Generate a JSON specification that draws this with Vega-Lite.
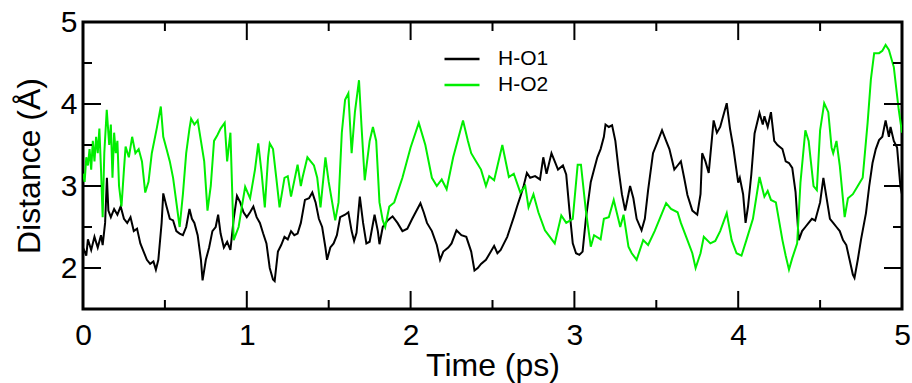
{
"$schema": "https://vega.github.io/schema/vega-lite/v6.json",
"width": 819, "height": 287,
"autosize": {"type": "none"},
"padding": {"left": 83, "top": 22, "right": 10, "bottom": 74},
"background": "white",
"config": {"view": {"stroke": "black", "strokeWidth": 3}, "font": "Liberation Sans",
  "axis": {"grid": false, "labelOverlap": false, "domain": false, "ticks": false}},
"resolve": {"axis": {"x": "independent", "y": "independent"}},
"layer": [
  {
    "data": {"values": [
{"s":"H-O1","t":0,"d":2.25},{"s":"H-O1","t":0.02,"d":2.15},{"s":"H-O1","t":0.03,"d":2.35},{"s":"H-O1","t":0.05,"d":2.22},{"s":"H-O1","t":0.07,"d":2.38},{"s":"H-O1","t":0.09,"d":2.25},{"s":"H-O1","t":0.11,"d":2.4},{"s":"H-O1","t":0.12,"d":2.28},{"s":"H-O1","t":0.135,"d":2.55},{"s":"H-O1","t":0.146,"d":3.1},{"s":"H-O1","t":0.155,"d":2.7},{"s":"H-O1","t":0.17,"d":2.62},{"s":"H-O1","t":0.19,"d":2.72},{"s":"H-O1","t":0.21,"d":2.65},{"s":"H-O1","t":0.23,"d":2.75},{"s":"H-O1","t":0.25,"d":2.6},{"s":"H-O1","t":0.27,"d":2.55},{"s":"H-O1","t":0.29,"d":2.62},{"s":"H-O1","t":0.31,"d":2.45},{"s":"H-O1","t":0.33,"d":2.48},{"s":"H-O1","t":0.35,"d":2.3},{"s":"H-O1","t":0.37,"d":2.2},{"s":"H-O1","t":0.39,"d":2.1},{"s":"H-O1","t":0.41,"d":2.05},{"s":"H-O1","t":0.43,"d":2.08},{"s":"H-O1","t":0.445,"d":1.98},{"s":"H-O1","t":0.46,"d":2.1},{"s":"H-O1","t":0.48,"d":2.55},{"s":"H-O1","t":0.49,"d":2.91},{"s":"H-O1","t":0.51,"d":2.75},{"s":"H-O1","t":0.53,"d":2.6},{"s":"H-O1","t":0.55,"d":2.58},{"s":"H-O1","t":0.57,"d":2.45},{"s":"H-O1","t":0.59,"d":2.42},{"s":"H-O1","t":0.61,"d":2.4},{"s":"H-O1","t":0.63,"d":2.5},{"s":"H-O1","t":0.65,"d":2.72},{"s":"H-O1","t":0.665,"d":2.6},{"s":"H-O1","t":0.68,"d":2.55},{"s":"H-O1","t":0.7,"d":2.4},{"s":"H-O1","t":0.72,"d":2.1},{"s":"H-O1","t":0.73,"d":1.85},{"s":"H-O1","t":0.75,"d":2.1},{"s":"H-O1","t":0.77,"d":2.25},{"s":"H-O1","t":0.79,"d":2.45},{"s":"H-O1","t":0.81,"d":2.5},{"s":"H-O1","t":0.825,"d":2.65},{"s":"H-O1","t":0.84,"d":2.42},{"s":"H-O1","t":0.86,"d":2.25},{"s":"H-O1","t":0.88,"d":2.32},{"s":"H-O1","t":0.9,"d":2.22},{"s":"H-O1","t":0.92,"d":2.6},{"s":"H-O1","t":0.94,"d":2.88},{"s":"H-O1","t":0.96,"d":2.8},{"s":"H-O1","t":0.98,"d":2.68},{"s":"H-O1","t":1,"d":2.62},{"s":"H-O1","t":1.02,"d":2.68},{"s":"H-O1","t":1.04,"d":2.75},{"s":"H-O1","t":1.06,"d":2.62},{"s":"H-O1","t":1.08,"d":2.55},{"s":"H-O1","t":1.1,"d":2.42},{"s":"H-O1","t":1.12,"d":2.3},{"s":"H-O1","t":1.14,"d":2},{"s":"H-O1","t":1.16,"d":1.86},{"s":"H-O1","t":1.17,"d":1.84},{"s":"H-O1","t":1.19,"d":2.2},{"s":"H-O1","t":1.21,"d":2.28},{"s":"H-O1","t":1.23,"d":2.38},{"s":"H-O1","t":1.25,"d":2.35},{"s":"H-O1","t":1.27,"d":2.45},{"s":"H-O1","t":1.29,"d":2.4},{"s":"H-O1","t":1.31,"d":2.42},{"s":"H-O1","t":1.33,"d":2.55},{"s":"H-O1","t":1.355,"d":2.83},{"s":"H-O1","t":1.38,"d":2.85},{"s":"H-O1","t":1.4,"d":2.92},{"s":"H-O1","t":1.42,"d":2.8},{"s":"H-O1","t":1.44,"d":2.6},{"s":"H-O1","t":1.46,"d":2.5},{"s":"H-O1","t":1.48,"d":2.25},{"s":"H-O1","t":1.49,"d":2.1},{"s":"H-O1","t":1.51,"d":2.25},{"s":"H-O1","t":1.53,"d":2.3},{"s":"H-O1","t":1.55,"d":2.4},{"s":"H-O1","t":1.57,"d":2.62},{"s":"H-O1","t":1.6,"d":2.65},{"s":"H-O1","t":1.62,"d":2.68},{"s":"H-O1","t":1.64,"d":2.45},{"s":"H-O1","t":1.655,"d":2.33},{"s":"H-O1","t":1.67,"d":2.43},{"s":"H-O1","t":1.69,"d":2.87},{"s":"H-O1","t":1.71,"d":2.55},{"s":"H-O1","t":1.73,"d":2.3},{"s":"H-O1","t":1.75,"d":2.32},{"s":"H-O1","t":1.78,"d":2.65},{"s":"H-O1","t":1.8,"d":2.45},{"s":"H-O1","t":1.81,"d":2.29},{"s":"H-O1","t":1.83,"d":2.5},{"s":"H-O1","t":1.86,"d":2.58},{"s":"H-O1","t":1.89,"d":2.63},{"s":"H-O1","t":1.92,"d":2.55},{"s":"H-O1","t":1.95,"d":2.45},{"s":"H-O1","t":1.98,"d":2.48},{"s":"H-O1","t":2.01,"d":2.6},{"s":"H-O1","t":2.06,"d":2.79},{"s":"H-O1","t":2.08,"d":2.68},{"s":"H-O1","t":2.1,"d":2.55},{"s":"H-O1","t":2.13,"d":2.45},{"s":"H-O1","t":2.16,"d":2.28},{"s":"H-O1","t":2.18,"d":2.1},{"s":"H-O1","t":2.2,"d":2.2},{"s":"H-O1","t":2.23,"d":2.25},{"s":"H-O1","t":2.25,"d":2.3},{"s":"H-O1","t":2.28,"d":2.46},{"s":"H-O1","t":2.31,"d":2.4},{"s":"H-O1","t":2.34,"d":2.38},{"s":"H-O1","t":2.37,"d":2.2},{"s":"H-O1","t":2.39,"d":1.97},{"s":"H-O1","t":2.41,"d":2},{"s":"H-O1","t":2.43,"d":2.05},{"s":"H-O1","t":2.46,"d":2.1},{"s":"H-O1","t":2.49,"d":2.2},{"s":"H-O1","t":2.51,"d":2.27},{"s":"H-O1","t":2.53,"d":2.18},{"s":"H-O1","t":2.55,"d":2.22},{"s":"H-O1","t":2.57,"d":2.3},{"s":"H-O1","t":2.59,"d":2.38},{"s":"H-O1","t":2.61,"d":2.5},{"s":"H-O1","t":2.63,"d":2.62},{"s":"H-O1","t":2.65,"d":2.75},{"s":"H-O1","t":2.67,"d":2.87},{"s":"H-O1","t":2.69,"d":3},{"s":"H-O1","t":2.71,"d":3.16},{"s":"H-O1","t":2.73,"d":3.1},{"s":"H-O1","t":2.76,"d":3.12},{"s":"H-O1","t":2.79,"d":3.08},{"s":"H-O1","t":2.81,"d":3.35},{"s":"H-O1","t":2.83,"d":3.15},{"s":"H-O1","t":2.86,"d":3.4},{"s":"H-O1","t":2.88,"d":3.3},{"s":"H-O1","t":2.9,"d":3.2},{"s":"H-O1","t":2.93,"d":3.25},{"s":"H-O1","t":2.95,"d":3.14},{"s":"H-O1","t":2.97,"d":2.7},{"s":"H-O1","t":2.99,"d":2.3},{"s":"H-O1","t":3.01,"d":2.18},{"s":"H-O1","t":3.03,"d":2.16},{"s":"H-O1","t":3.05,"d":2.2},{"s":"H-O1","t":3.07,"d":2.6},{"s":"H-O1","t":3.1,"d":3.05},{"s":"H-O1","t":3.12,"d":3.2},{"s":"H-O1","t":3.14,"d":3.35},{"s":"H-O1","t":3.16,"d":3.45},{"s":"H-O1","t":3.18,"d":3.6},{"s":"H-O1","t":3.19,"d":3.75},{"s":"H-O1","t":3.21,"d":3.72},{"s":"H-O1","t":3.23,"d":3.74},{"s":"H-O1","t":3.25,"d":3.55},{"s":"H-O1","t":3.27,"d":3.2},{"s":"H-O1","t":3.29,"d":2.9},{"s":"H-O1","t":3.31,"d":2.7},{"s":"H-O1","t":3.33,"d":2.9},{"s":"H-O1","t":3.34,"d":3},{"s":"H-O1","t":3.36,"d":2.85},{"s":"H-O1","t":3.38,"d":2.6},{"s":"H-O1","t":3.41,"d":2.46},{"s":"H-O1","t":3.43,"d":2.6},{"s":"H-O1","t":3.45,"d":2.95},{"s":"H-O1","t":3.48,"d":3.4},{"s":"H-O1","t":3.51,"d":3.55},{"s":"H-O1","t":3.535,"d":3.68},{"s":"H-O1","t":3.56,"d":3.55},{"s":"H-O1","t":3.58,"d":3.45},{"s":"H-O1","t":3.61,"d":3.2},{"s":"H-O1","t":3.63,"d":3.25},{"s":"H-O1","t":3.65,"d":3.3},{"s":"H-O1","t":3.67,"d":3.1},{"s":"H-O1","t":3.69,"d":2.89},{"s":"H-O1","t":3.72,"d":2.7},{"s":"H-O1","t":3.75,"d":2.65},{"s":"H-O1","t":3.77,"d":2.9},{"s":"H-O1","t":3.78,"d":3.4},{"s":"H-O1","t":3.8,"d":3.3},{"s":"H-O1","t":3.82,"d":3.16},{"s":"H-O1","t":3.85,"d":3.8},{"s":"H-O1","t":3.87,"d":3.65},{"s":"H-O1","t":3.89,"d":3.72},{"s":"H-O1","t":3.93,"d":4.01},{"s":"H-O1","t":3.95,"d":3.7},{"s":"H-O1","t":3.97,"d":3.47},{"s":"H-O1","t":4,"d":3.04},{"s":"H-O1","t":4.01,"d":3.1},{"s":"H-O1","t":4.03,"d":2.9},{"s":"H-O1","t":4.045,"d":2.55},{"s":"H-O1","t":4.06,"d":2.75},{"s":"H-O1","t":4.08,"d":3.14},{"s":"H-O1","t":4.1,"d":3.64},{"s":"H-O1","t":4.13,"d":3.89},{"s":"H-O1","t":4.15,"d":3.75},{"s":"H-O1","t":4.16,"d":3.85},{"s":"H-O1","t":4.18,"d":3.72},{"s":"H-O1","t":4.2,"d":3.9},{"s":"H-O1","t":4.22,"d":3.55},{"s":"H-O1","t":4.24,"d":3.5},{"s":"H-O1","t":4.27,"d":3.45},{"s":"H-O1","t":4.29,"d":3.3},{"s":"H-O1","t":4.31,"d":3.28},{"s":"H-O1","t":4.33,"d":3.22},{"s":"H-O1","t":4.35,"d":2.93},{"s":"H-O1","t":4.37,"d":2.34},{"s":"H-O1","t":4.39,"d":2.45},{"s":"H-O1","t":4.41,"d":2.5},{"s":"H-O1","t":4.43,"d":2.55},{"s":"H-O1","t":4.45,"d":2.6},{"s":"H-O1","t":4.47,"d":2.58},{"s":"H-O1","t":4.5,"d":2.8},{"s":"H-O1","t":4.52,"d":3.1},{"s":"H-O1","t":4.54,"d":2.85},{"s":"H-O1","t":4.56,"d":2.6},{"s":"H-O1","t":4.58,"d":2.55},{"s":"H-O1","t":4.6,"d":2.5},{"s":"H-O1","t":4.62,"d":2.45},{"s":"H-O1","t":4.64,"d":2.34},{"s":"H-O1","t":4.66,"d":2.28},{"s":"H-O1","t":4.68,"d":2.1},{"s":"H-O1","t":4.7,"d":1.92},{"s":"H-O1","t":4.71,"d":1.88},{"s":"H-O1","t":4.73,"d":2.1},{"s":"H-O1","t":4.75,"d":2.35},{"s":"H-O1","t":4.78,"d":2.67},{"s":"H-O1","t":4.8,"d":3},{"s":"H-O1","t":4.82,"d":3.28},{"s":"H-O1","t":4.84,"d":3.45},{"s":"H-O1","t":4.86,"d":3.56},{"s":"H-O1","t":4.88,"d":3.6},{"s":"H-O1","t":4.9,"d":3.8},{"s":"H-O1","t":4.92,"d":3.6},{"s":"H-O1","t":4.93,"d":3.72},{"s":"H-O1","t":4.95,"d":3.55},{"s":"H-O1","t":4.97,"d":3.47},{"s":"H-O1","t":4.99,"d":3},{"s":"H-O1","t":5,"d":2.9},
{"s":"H-O2","t":0,"d":3.15},{"s":"H-O2","t":0.01,"d":3.05},{"s":"H-O2","t":0.02,"d":3.35},{"s":"H-O2","t":0.03,"d":3.25},{"s":"H-O2","t":0.04,"d":3.45},{"s":"H-O2","t":0.05,"d":3.2},{"s":"H-O2","t":0.06,"d":3.55},{"s":"H-O2","t":0.07,"d":3.3},{"s":"H-O2","t":0.08,"d":3.6},{"s":"H-O2","t":0.09,"d":3.4},{"s":"H-O2","t":0.1,"d":3.7},{"s":"H-O2","t":0.11,"d":3.2},{"s":"H-O2","t":0.12,"d":2.62},{"s":"H-O2","t":0.13,"d":3.4},{"s":"H-O2","t":0.145,"d":3.93},{"s":"H-O2","t":0.16,"d":3.5},{"s":"H-O2","t":0.17,"d":3.75},{"s":"H-O2","t":0.18,"d":3.1},{"s":"H-O2","t":0.19,"d":3.65},{"s":"H-O2","t":0.2,"d":3.4},{"s":"H-O2","t":0.21,"d":3.55},{"s":"H-O2","t":0.22,"d":3},{"s":"H-O2","t":0.235,"d":2.75},{"s":"H-O2","t":0.25,"d":3.2},{"s":"H-O2","t":0.26,"d":3.48},{"s":"H-O2","t":0.28,"d":3.35},{"s":"H-O2","t":0.3,"d":3.6},{"s":"H-O2","t":0.32,"d":3.4},{"s":"H-O2","t":0.34,"d":3.45},{"s":"H-O2","t":0.36,"d":3.3},{"s":"H-O2","t":0.38,"d":2.92},{"s":"H-O2","t":0.4,"d":3.05},{"s":"H-O2","t":0.42,"d":3.4},{"s":"H-O2","t":0.45,"d":3.7},{"s":"H-O2","t":0.475,"d":3.97},{"s":"H-O2","t":0.49,"d":3.6},{"s":"H-O2","t":0.51,"d":3.45},{"s":"H-O2","t":0.53,"d":3.3},{"s":"H-O2","t":0.55,"d":3.1},{"s":"H-O2","t":0.57,"d":2.8},{"s":"H-O2","t":0.59,"d":2.5},{"s":"H-O2","t":0.61,"d":2.9},{"s":"H-O2","t":0.63,"d":3.4},{"s":"H-O2","t":0.65,"d":3.7},{"s":"H-O2","t":0.66,"d":3.82},{"s":"H-O2","t":0.68,"d":3.75},{"s":"H-O2","t":0.7,"d":3.8},{"s":"H-O2","t":0.72,"d":3.55},{"s":"H-O2","t":0.74,"d":3.3},{"s":"H-O2","t":0.76,"d":2.7},{"s":"H-O2","t":0.78,"d":3},{"s":"H-O2","t":0.8,"d":3.55},{"s":"H-O2","t":0.82,"d":3.62},{"s":"H-O2","t":0.84,"d":3.7},{"s":"H-O2","t":0.865,"d":3.77},{"s":"H-O2","t":0.88,"d":3.3},{"s":"H-O2","t":0.9,"d":3.65},{"s":"H-O2","t":0.92,"d":2.34},{"s":"H-O2","t":0.95,"d":2.5},{"s":"H-O2","t":0.97,"d":2.75},{"s":"H-O2","t":0.99,"d":2.99},{"s":"H-O2","t":1.02,"d":2.85},{"s":"H-O2","t":1.05,"d":3.2},{"s":"H-O2","t":1.07,"d":3.52},{"s":"H-O2","t":1.09,"d":3.17},{"s":"H-O2","t":1.11,"d":2.74},{"s":"H-O2","t":1.13,"d":3.35},{"s":"H-O2","t":1.14,"d":3.52},{"s":"H-O2","t":1.16,"d":3.45},{"s":"H-O2","t":1.18,"d":3.1},{"s":"H-O2","t":1.2,"d":2.74},{"s":"H-O2","t":1.23,"d":3.1},{"s":"H-O2","t":1.25,"d":3.12},{"s":"H-O2","t":1.27,"d":2.87},{"s":"H-O2","t":1.31,"d":3.26},{"s":"H-O2","t":1.33,"d":3},{"s":"H-O2","t":1.34,"d":3.1},{"s":"H-O2","t":1.37,"d":3.35},{"s":"H-O2","t":1.41,"d":3.25},{"s":"H-O2","t":1.43,"d":3.1},{"s":"H-O2","t":1.45,"d":2.74},{"s":"H-O2","t":1.48,"d":3.35},{"s":"H-O2","t":1.5,"d":3.05},{"s":"H-O2","t":1.54,"d":2.58},{"s":"H-O2","t":1.56,"d":2.8},{"s":"H-O2","t":1.58,"d":3.65},{"s":"H-O2","t":1.6,"d":4.05},{"s":"H-O2","t":1.62,"d":4.13},{"s":"H-O2","t":1.64,"d":3.4},{"s":"H-O2","t":1.66,"d":3.9},{"s":"H-O2","t":1.685,"d":4.29},{"s":"H-O2","t":1.7,"d":3.74},{"s":"H-O2","t":1.72,"d":3.07},{"s":"H-O2","t":1.75,"d":3.55},{"s":"H-O2","t":1.77,"d":3.72},{"s":"H-O2","t":1.79,"d":3.55},{"s":"H-O2","t":1.81,"d":2.8},{"s":"H-O2","t":1.83,"d":2.58},{"s":"H-O2","t":1.845,"d":2.5},{"s":"H-O2","t":1.87,"d":2.75},{"s":"H-O2","t":1.9,"d":2.8},{"s":"H-O2","t":1.95,"d":3.1},{"s":"H-O2","t":2,"d":3.47},{"s":"H-O2","t":2.05,"d":3.77},{"s":"H-O2","t":2.09,"d":3.5},{"s":"H-O2","t":2.13,"d":3.1},{"s":"H-O2","t":2.16,"d":3},{"s":"H-O2","t":2.19,"d":3.08},{"s":"H-O2","t":2.22,"d":2.96},{"s":"H-O2","t":2.26,"d":3.35},{"s":"H-O2","t":2.32,"d":3.8},{"s":"H-O2","t":2.35,"d":3.55},{"s":"H-O2","t":2.37,"d":3.4},{"s":"H-O2","t":2.4,"d":3.3},{"s":"H-O2","t":2.43,"d":3.2},{"s":"H-O2","t":2.46,"d":3},{"s":"H-O2","t":2.48,"d":3.12},{"s":"H-O2","t":2.51,"d":3.07},{"s":"H-O2","t":2.56,"d":3.5},{"s":"H-O2","t":2.6,"d":3.11},{"s":"H-O2","t":2.63,"d":3.15},{"s":"H-O2","t":2.67,"d":2.92},{"s":"H-O2","t":2.7,"d":3},{"s":"H-O2","t":2.72,"d":2.74},{"s":"H-O2","t":2.75,"d":2.9},{"s":"H-O2","t":2.78,"d":2.68},{"s":"H-O2","t":2.82,"d":2.46},{"s":"H-O2","t":2.88,"d":2.3},{"s":"H-O2","t":2.92,"d":2.64},{"s":"H-O2","t":2.95,"d":2.55},{"s":"H-O2","t":2.99,"d":2.6},{"s":"H-O2","t":3.02,"d":3.26},{"s":"H-O2","t":3.04,"d":3.26},{"s":"H-O2","t":3.07,"d":2.7},{"s":"H-O2","t":3.1,"d":2.26},{"s":"H-O2","t":3.12,"d":2.4},{"s":"H-O2","t":3.16,"d":2.35},{"s":"H-O2","t":3.18,"d":2.6},{"s":"H-O2","t":3.21,"d":2.62},{"s":"H-O2","t":3.24,"d":2.83},{"s":"H-O2","t":3.28,"d":2.5},{"s":"H-O2","t":3.3,"d":2.65},{"s":"H-O2","t":3.33,"d":2.26},{"s":"H-O2","t":3.35,"d":2.18},{"s":"H-O2","t":3.38,"d":2.1},{"s":"H-O2","t":3.42,"d":2.34},{"s":"H-O2","t":3.45,"d":2.28},{"s":"H-O2","t":3.49,"d":2.45},{"s":"H-O2","t":3.535,"d":2.67},{"s":"H-O2","t":3.56,"d":2.79},{"s":"H-O2","t":3.59,"d":2.72},{"s":"H-O2","t":3.63,"d":2.68},{"s":"H-O2","t":3.65,"d":2.55},{"s":"H-O2","t":3.69,"d":2.34},{"s":"H-O2","t":3.72,"d":2.18},{"s":"H-O2","t":3.74,"d":2},{"s":"H-O2","t":3.77,"d":2.18},{"s":"H-O2","t":3.79,"d":2.38},{"s":"H-O2","t":3.83,"d":2.3},{"s":"H-O2","t":3.86,"d":2.33},{"s":"H-O2","t":3.89,"d":2.45},{"s":"H-O2","t":3.93,"d":2.67},{"s":"H-O2","t":3.96,"d":2.34},{"s":"H-O2","t":3.99,"d":2.18},{"s":"H-O2","t":4.02,"d":2.15},{"s":"H-O2","t":4.05,"d":2.34},{"s":"H-O2","t":4.09,"d":2.6},{"s":"H-O2","t":4.13,"d":3.11},{"s":"H-O2","t":4.16,"d":2.87},{"s":"H-O2","t":4.18,"d":2.94},{"s":"H-O2","t":4.2,"d":2.83},{"s":"H-O2","t":4.23,"d":2.8},{"s":"H-O2","t":4.27,"d":2.34},{"s":"H-O2","t":4.29,"d":2.15},{"s":"H-O2","t":4.31,"d":1.98},{"s":"H-O2","t":4.33,"d":2.12},{"s":"H-O2","t":4.36,"d":2.3},{"s":"H-O2","t":4.38,"d":3.04},{"s":"H-O2","t":4.41,"d":3.68},{"s":"H-O2","t":4.43,"d":3.55},{"s":"H-O2","t":4.46,"d":3},{"s":"H-O2","t":4.48,"d":2.95},{"s":"H-O2","t":4.5,"d":3.68},{"s":"H-O2","t":4.525,"d":4.01},{"s":"H-O2","t":4.55,"d":3.9},{"s":"H-O2","t":4.57,"d":3.47},{"s":"H-O2","t":4.58,"d":3.4},{"s":"H-O2","t":4.6,"d":3.55},{"s":"H-O2","t":4.62,"d":3.25},{"s":"H-O2","t":4.65,"d":2.62},{"s":"H-O2","t":4.67,"d":2.85},{"s":"H-O2","t":4.7,"d":2.9},{"s":"H-O2","t":4.73,"d":3},{"s":"H-O2","t":4.76,"d":3.1},{"s":"H-O2","t":4.79,"d":3.77},{"s":"H-O2","t":4.81,"d":4.3},{"s":"H-O2","t":4.83,"d":4.62},{"s":"H-O2","t":4.86,"d":4.62},{"s":"H-O2","t":4.88,"d":4.65},{"s":"H-O2","t":4.9,"d":4.72},{"s":"H-O2","t":4.92,"d":4.66},{"s":"H-O2","t":4.95,"d":4.45},{"s":"H-O2","t":4.98,"d":3.93},{"s":"H-O2","t":5,"d":3.65}
    ]},
    "mark": {"type": "line", "strokeWidth": 2, "clip": true},
    "encoding": {
      "x": {"field": "t", "type": "quantitative", "scale": {"domain": [0, 5], "nice": false, "zero": false},
        "axis": {"orient": "bottom", "title": "Time (ps)", "values": [0,1,2,3,4,5], "format": "d",
          "labelFlush": false, "labelBound": false,
          "labelPadding": 11, "labelFontSize": 30, "labelColor": "black", "labelFont": "Liberation Sans",
          "titleFontSize": 32, "titleFontWeight": "normal", "titleColor": "black", "titleFont": "Liberation Sans", "titlePadding": 0}},
      "y": {"field": "d", "type": "quantitative", "scale": {"domain": [1.5, 5], "nice": false, "zero": false},
        "axis": {"orient": "left", "title": "Distance (Å)", "values": [2,3,4,5], "format": "d",
          "labelFlush": false, "labelBound": false,
          "labelPadding": 6, "labelFontSize": 30, "labelColor": "black", "labelFont": "Liberation Sans",
          "titleFontSize": 32, "titleFontWeight": "normal", "titleColor": "black", "titleFont": "Liberation Sans", "titlePadding": 14}},
      "color": {"field": "s", "type": "nominal", "scale": {"domain": ["H-O1", "H-O2"], "range": ["#000000", "#00ee00"]},
        "legend": {"orient": "none", "legendX": 360, "legendY": 24, "title": null, "symbolType": "stroke", "symbolSize": 1225,
          "symbolStrokeWidth": 2.5, "labelFontSize": 21, "labelFont": "Liberation Sans", "labelColor": "black", "labelOffset": 17,
          "clipHeight": 26, "padding": 0, "rowPadding": 0}}
    }
  },
  {
    "data": {"values": [{"v":0},{"v":1},{"v":2},{"v":3},{"v":4},{"v":5}]},
    "mark": {"type": "rule", "color": "black", "strokeWidth": 2},
    "encoding": {
      "x": {"field": "v", "type": "quantitative", "axis": null},
      "y": {"datum": 1.5, "type": "quantitative", "axis": null},
      "y2": {"datum": 1.72}
    }
  },
  {
    "data": {"values": [{"v":0},{"v":1},{"v":2},{"v":3},{"v":4},{"v":5}]},
    "mark": {"type": "rule", "color": "black", "strokeWidth": 2},
    "encoding": {
      "x": {"field": "v", "type": "quantitative", "axis": null},
      "y": {"datum": 5, "type": "quantitative", "axis": null},
      "y2": {"datum": 4.78}
    }
  },
  {
    "data": {"values": [{"v":0.5},{"v":1.5},{"v":2.5},{"v":3.5},{"v":4.5}]},
    "mark": {"type": "rule", "color": "black", "strokeWidth": 2},
    "encoding": {
      "x": {"field": "v", "type": "quantitative", "axis": null},
      "y": {"datum": 1.5, "type": "quantitative", "axis": null},
      "y2": {"datum": 1.61}
    }
  },
  {
    "data": {"values": [{"v":0.5},{"v":1.5},{"v":2.5},{"v":3.5},{"v":4.5}]},
    "mark": {"type": "rule", "color": "black", "strokeWidth": 2},
    "encoding": {
      "x": {"field": "v", "type": "quantitative", "axis": null},
      "y": {"datum": 5, "type": "quantitative", "axis": null},
      "y2": {"datum": 4.89}
    }
  },
  {
    "data": {"values": [{"v":2},{"v":3},{"v":4}]},
    "mark": {"type": "rule", "color": "black", "strokeWidth": 2},
    "encoding": {
      "y": {"field": "v", "type": "quantitative", "axis": null},
      "x": {"datum": 0, "type": "quantitative", "axis": null},
      "x2": {"datum": 0.11}
    }
  },
  {
    "data": {"values": [{"v":2},{"v":3},{"v":4}]},
    "mark": {"type": "rule", "color": "black", "strokeWidth": 2},
    "encoding": {
      "y": {"field": "v", "type": "quantitative", "axis": null},
      "x": {"datum": 5, "type": "quantitative", "axis": null},
      "x2": {"datum": 4.89}
    }
  },
  {
    "data": {"values": [{"v":2.5},{"v":3.5},{"v":4.5}]},
    "mark": {"type": "rule", "color": "black", "strokeWidth": 2},
    "encoding": {
      "y": {"field": "v", "type": "quantitative", "axis": null},
      "x": {"datum": 0, "type": "quantitative", "axis": null},
      "x2": {"datum": 0.055}
    }
  },
  {
    "data": {"values": [{"v":2.5},{"v":3.5},{"v":4.5}]},
    "mark": {"type": "rule", "color": "black", "strokeWidth": 2},
    "encoding": {
      "y": {"field": "v", "type": "quantitative", "axis": null},
      "x": {"datum": 5, "type": "quantitative", "axis": null},
      "x2": {"datum": 4.945}
    }
  }
]
}
